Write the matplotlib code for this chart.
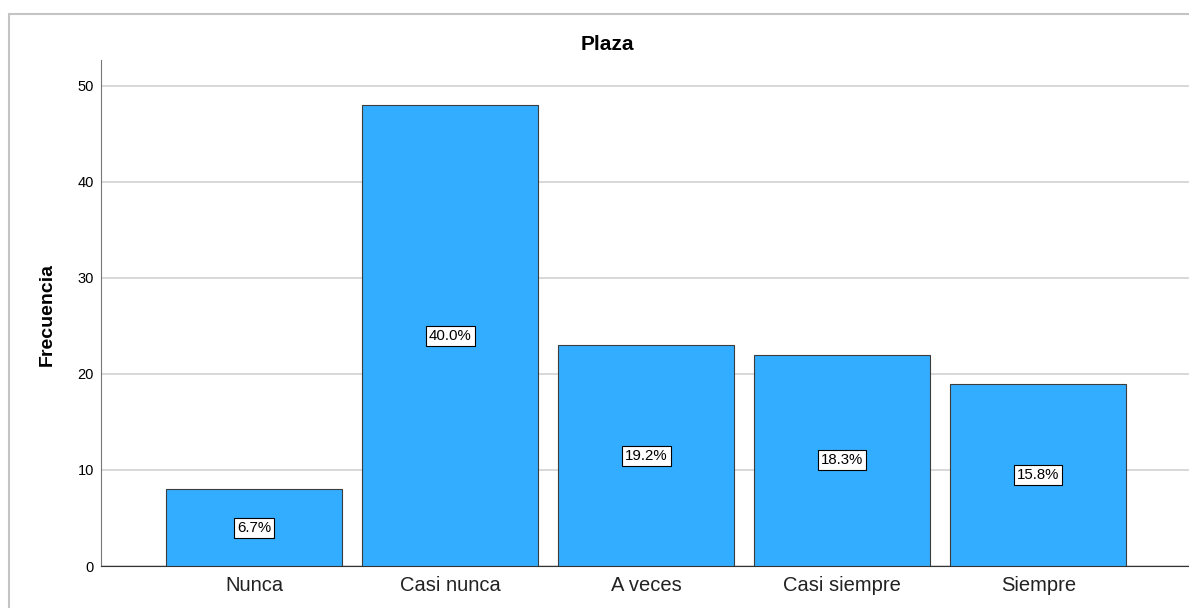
import matplotlib
matplotlib.use("Agg")
import matplotlib.pyplot as plt
from matplotlib.patches import Rectangle

plt.rcParams["font.family"] = ["Liberation Sans", "DejaVu Sans"]

# Frequency table for "Plaza"
categories = ["Nunca", "Casi nunca", "A veces", "Casi siempre", "Siempre"]
counts = [8, 48, 23, 22, 19]
percent_labels = ["6.7%", "40.0%", "19.2%", "18.3%", "15.8%"]
y_ticks = [0, 10, 20, 30, 40, 50]

BAR = "#33ADFF"
EDGE = "#3C3C3C"
GRID = "#D2D2D2"
FRAME = "#C4C4C4"

fig = plt.figure(figsize=(11.89, 6.08), dpi=100)

# light outer frame of the chart area
fig.patches.append(Rectangle((9 / 1189, -0.2), 1.2, 1.2 - 14 / 608,
                             transform=fig.transFigure, fill=False,
                             edgecolor=FRAME, linewidth=1.5))

ax = fig.add_axes([101 / 1189, 1 - 566 / 608, 1.0 - 101 / 1189 + 0.01, (566 - 60) / 608])

x = range(len(categories))
ax.bar(x, counts, width=0.9, color=BAR, edgecolor=EDGE, linewidth=0.8, zorder=3)
for xi, n, lab in zip(x, counts, percent_labels):
    ax.text(xi, n / 2, lab, ha="center", va="center", fontsize=10.8, zorder=4,
            bbox=dict(boxstyle="square,pad=0.2", facecolor="white",
                      edgecolor="black", linewidth=0.8))

ax.set_xlim(-0.782, 4.83)
ax.set_ylim(0, 52.7)
ax.set_yticks(y_ticks)
ax.set_xticks(list(x))
ax.set_xticklabels(categories, fontsize=14.5, color="#222222")
ax.tick_params(axis="y", length=0, labelsize=10.5, pad=5)
ax.tick_params(axis="x", length=0, pad=7)
ax.grid(True, axis="y", color=GRID, linewidth=1.2, zorder=0)
ax.set_axisbelow(True)

for side in ("top", "right"):
    ax.spines[side].set_visible(False)
ax.spines["left"].set_color("#777777")
ax.spines["bottom"].set_color("#333333")

fig.text(47 / 1189, 1 - 315 / 608, "Frecuencia", rotation=90, ha="center",
         va="center", fontsize=14, fontweight="bold")
fig.text(607 / 1189, 1 - 44 / 608, "Plaza", ha="center", va="center",
         fontsize=15, fontweight="bold")

fig.savefig("out.png", dpi=100)
